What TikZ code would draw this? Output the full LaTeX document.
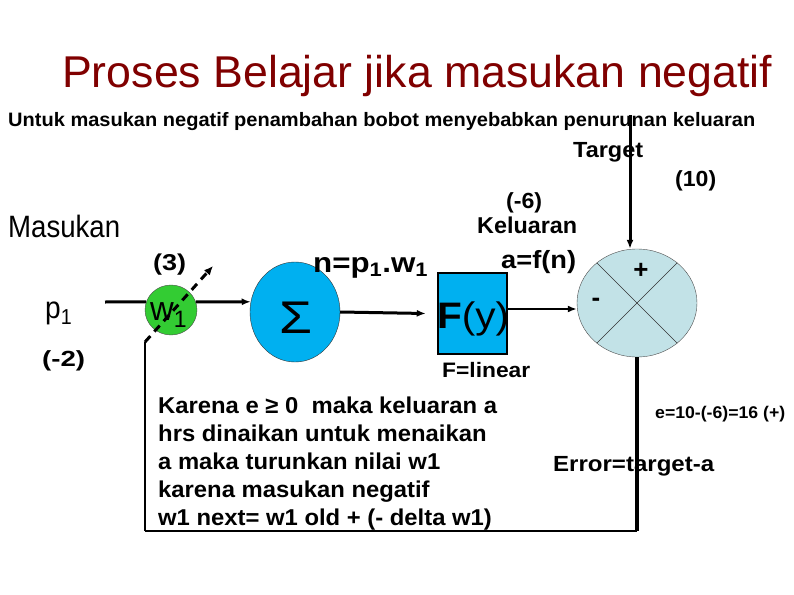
\documentclass[tikz,border=0pt]{standalone}
\usepackage{graphicx}
\usepackage{fontspec}
\setmainfont{Liberation Sans}
\usetikzlibrary{arrows.meta,shapes.geometric}
\definecolor{titlered}{RGB}{128,0,0}
\definecolor{skyb}{RGB}{0,176,240}
\definecolor{grn}{RGB}{51,204,51}
\definecolor{errc}{RGB}{194,226,231}
\newcommand\fitto[2]{\resizebox{#1}{\height}{#2}}
\newcommand\fs[1]{\fontsize{#1}{#1}\selectfont}
\begin{document}
\begin{tikzpicture}[x=1bp,y=-1bp,
  txt/.style={inner sep=0pt,anchor=base west},
  ctr/.style={inner sep=0pt,anchor=center},
  conn/.style={line width=3bp,-{Latex[length=9bp,width=7bp]}},
  plain/.style={line width=3bp},
  blk/.style={scale=1}]
\useasboundingbox (0,0) rectangle (794,595);

% titles
\node[txt,text=titlered] (title) at (62,88) {\fitto{710bp}{\fs{44.7}Proses Belajar jika masukan negatif}};
\node[txt] (sub) at (8,127) {\fitto{747bp}{\fs{19.5}\bfseries Untuk masukan negatif penambahan bobot menyebabkan penurunan keluaran}};

% shapes
\node[ellipse,draw=black!70,fill=grn,minimum width=52bp,minimum height=50bp,inner sep=0pt] (w) at (171,310) {};
\node[ellipse,draw=black!80,fill=skyb,minimum width=90bp,minimum height=100bp,inner sep=0pt] (sig) at (295,312) {};
\node[rectangle,draw=black,line width=2.5bp,fill=skyb,minimum width=69bp,minimum height=81bp,inner sep=0pt] (F) at (472.5,313.5) {};
\node[ellipse,draw=black!70,fill=errc,minimum width=120bp,minimum height=108bp,inner sep=0pt] (E) at (637,303) {};
\draw[black!80,line width=0.6bp] (E.135) -- (E.-45);
\draw[black!80,line width=0.6bp] (E.45) -- (E.-135);

% labels inside shapes
\node[txt] (wl) at (150,320) {\fitto{37bp}{\fs{34}w\textsubscript{1}}};
\node[ctr] (sigl) at (296,318) {\fitto{33bp}{\fs{46}Σ}};
\node[txt] (Fl) at (437,328) {\fitto{72bp}{\fs{37}\textbf{F}(y)}};
\node[ctr] (plus) at (641,271) {\fs{26}\bfseries +};
\node[ctr] (minus) at (596,302) {\fs{26}\bfseries -};

% other text
\node[txt] (masukan) at (8,238) {\fitto{112bp}{\fs{31}Masukan}};
\node[txt] (p1) at (45,318) {\fitto{27bp}{\fs{31}p\textsubscript{1}}};
\node[txt] (m2) at (42,366) {\fitto{43bp}{\fs{22}\bfseries (-2)}};
\node[txt] (w3) at (153,270) {\fitto{33bp}{\fs{23}\bfseries (3)}};
\node[txt] (neq) at (313,272) {\fitto{115bp}{\fs{28}\bfseries n=p\textsubscript{1}.w\textsubscript{1}}};
\node[txt] (target) at (573,158) {\fitto{70bp}{\fs{22}\bfseries Target}};
\node[txt] (ten) at (675,187) {\fitto{41bp}{\fs{22}\bfseries (10)}};
\node[txt] (m6) at (506,209) {\fitto{36bp}{\fs{22}\bfseries (-6)}};
\node[txt] (kel) at (477,234) {\fitto{100bp}{\fs{23}\bfseries Keluaran}};
\node[txt] (afn) at (501,268) {\fitto{75bp}{\fs{25}\bfseries a=f(n)}};
\node[txt] (flin) at (442,377) {\fitto{88bp}{\fs{21}\bfseries F=linear}};
\node[txt] (l1) at (158,413) {\scalebox{1.04}[1]{\fs{23}\bfseries Karena e ≥ 0\ \ maka keluaran a}};
\node[txt] (l2) at (158,441) {\scalebox{1.04}[1]{\fs{23}\bfseries hrs dinaikan untuk menaikan}};
\node[txt] (l3) at (158,469) {\scalebox{1.04}[1]{\fs{23}\bfseries a maka turunkan nilai w1}};
\node[txt] (l4) at (158,497) {\scalebox{1.04}[1]{\fs{23}\bfseries karena masukan negatif}};
\node[txt] (l5) at (158,525) {\scalebox{1.04}[1]{\fs{23}\bfseries w1 next= w1 old + (- delta w1)}};
\node[txt] (eq) at (655,418) {\fitto{130bp}{\fs{17}\bfseries e=10-(-6)=16 (+)}};
\node[txt] (err) at (553,471) {\fitto{161bp}{\fs{22}\bfseries Error=target-a}};

% connectors
\coordinate (pin) at (105,302);
\coordinate (tgt) at (630,115);
\coordinate (fy) at (0,309);
\coordinate (bl) at (145,531);
\coordinate (ds) at (145,342);
\coordinate (de) at (213,266);
\draw[plain] (pin) -- (w.162);
\draw[conn] (w.18) -- (sig.167);
\draw[conn] (sig.east) -- ([xshift=-11bp]F.west);
\draw[conn,line width=2.5bp] (F.east |- fy) -- (E.west |- fy);
\draw[conn] (tgt) -- (tgt |- E.north);
\draw[line width=4bp] (E.south) -- (E.south |- bl);
\draw[line width=2bp] (E.south |- bl) -- (bl);
\draw[line width=1.2bp] (bl) -- (ds);
\draw[line width=3bp,dash pattern=on 8bp off 6bp,-{Latex[length=9bp,width=8bp]}] (ds) -- (de);
\end{tikzpicture}
\end{document}
